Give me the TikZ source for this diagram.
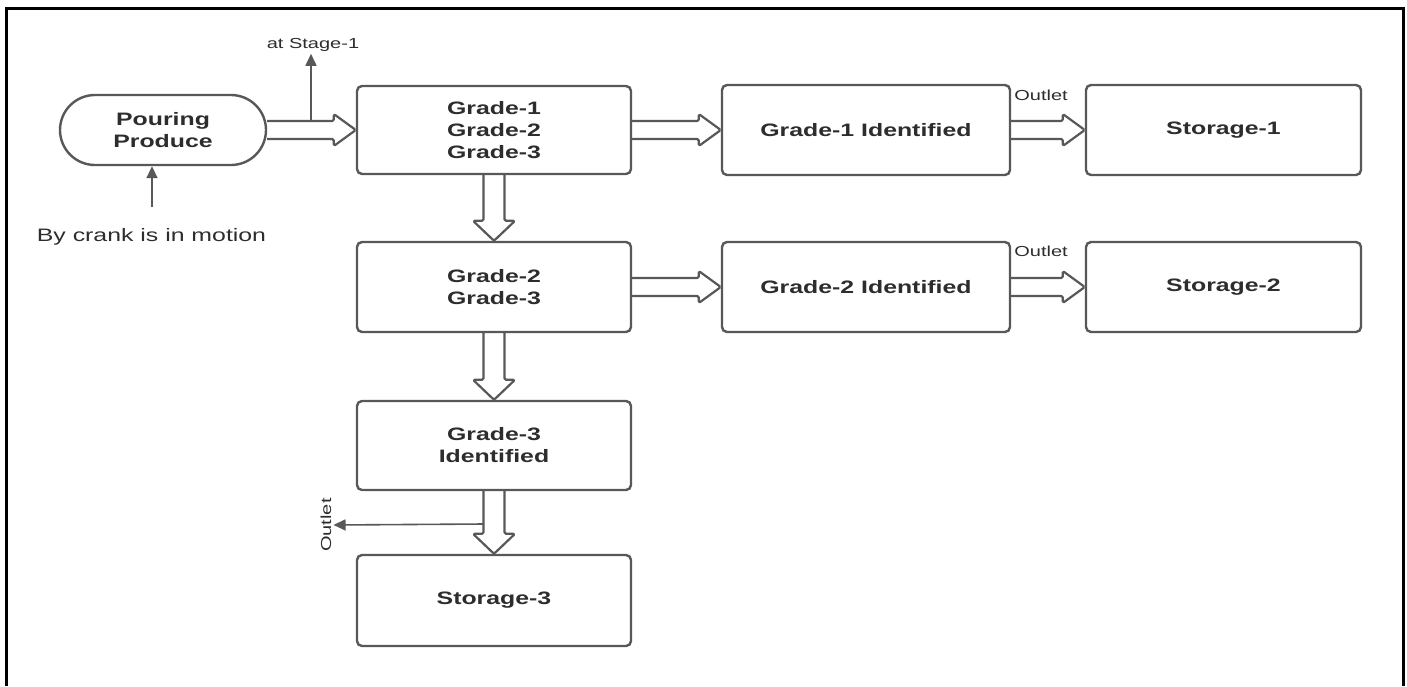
\documentclass[tikz,border=0pt]{standalone}
\usepackage{fontspec}
\setmainfont{Liberation Sans}[FakeStretch=1.38]
\usetikzlibrary{arrows.meta,calc}
\definecolor{boxgray}{RGB}{88,88,88}
\definecolor{txt}{RGB}{45,45,45}
\pgfdeclarelayer{bg}
\pgfsetlayers{bg,main}
\tikzset{
  box/.style={draw=boxgray, line width=2.4pt, rounded corners=5pt, fill=white,
    minimum width=274pt, minimum height=89pt, text=txt, align=center,
    font=\bfseries\fontsize{18}{22}\selectfont},
  stadium/.style={box, rounded corners=35pt, minimum width=206pt, minimum height=70pt},
  hollow/.style={draw=boxgray, line width=2.2pt, fill=white, rounded corners=1.5pt, line join=round},
  thinarrow/.style={draw=boxgray, line width=1.6pt, -{Triangle[length=12pt,width=11pt]}},
  smalllab/.style={text=txt, font=\fontsize{14.5}{16}\selectfont, inner sep=2pt},
  biglab/.style={text=txt, font=\fontsize{18}{20}\selectfont, inner sep=2pt},
}
\newcommand\hollowH[2]{%
  \draw[hollow] ([yshift=9pt]#1.east) -- ([xshift=-22pt,yshift=9pt]#2.west)
   -- ([xshift=-22pt,yshift=16pt]#2.west) -- (#2.west)
   -- ([xshift=-22pt,yshift=-16pt]#2.west) -- ([xshift=-22pt,yshift=-9pt]#2.west)
   -- ([yshift=-9pt]#1.east);}
\newcommand\hollowV[2]{%
  \draw[hollow] ([xshift=-10.5pt]#1.south) -- ([xshift=-10.5pt,yshift=20pt]#2.north)
   -- ([xshift=-21pt,yshift=20pt]#2.north) -- (#2.north)
   -- ([xshift=21pt,yshift=20pt]#2.north) -- ([xshift=10.5pt,yshift=20pt]#2.north)
   -- ([xshift=10.5pt]#1.south);}
\begin{document}
\begin{tikzpicture}[x=1pt,y=-1pt]
\useasboundingbox (0,0) rectangle (1407,686);
% frame
\draw[black, line width=3pt] (6,686) -- (6,8) -- (1403,8) -- (1403,686);

% nodes
\node[stadium] (pour) at (163,130) {Pouring\\Produce};
\node[box, minimum height=88pt] (b1) at (494,130) {Grade-1\\Grade-2\\Grade-3};
\node[box, minimum width=288pt, minimum height=90pt] (g1) at (866,130) {Grade-1 Identified};
\node[box, minimum width=275pt, minimum height=90pt] (s1) at (1223.5,130) {Storage-1};
\node[box, minimum height=90pt] (b2) at (494,287) {Grade-2\\Grade-3};
\node[box, minimum width=288pt, minimum height=90pt] (g2) at (866,287) {Grade-2 Identified};
\node[box, minimum width=275pt, minimum height=90pt] (s2) at (1223.5,287) {Storage-2};
\node[box, minimum height=89pt] (g3) at (494,445.5) {Grade-3\\Identified};
\node[box, minimum height=91pt] (s3) at (494,600.5) {Storage-3};

% labels
\node[smalllab] (stage) at (313,45) {at Stage-1};
\node[biglab] (crank) at (151.5,237) {By crank is in motion};
\node[smalllab] (out1) at (1041,95) {Outlet};
\node[smalllab] (out2) at (1041,251) {Outlet};
\node[smalllab, rotate=90] (out3) at (326,525) {Outlet};

\coordinate (st) at (311,121);
\coordinate (cr) at (152,207);
\coordinate (o3) at (483.5,524);

% hollow arrows
\begin{pgfonlayer}{bg}
\hollowH{pour}{b1}
\hollowH{b1}{g1}
\hollowH{g1}{s1}
\hollowH{b2}{g2}
\hollowH{g2}{s2}
\hollowV{b1}{b2}
\hollowV{b2}{g3}
\hollowV{g3}{s3}
\end{pgfonlayer}

% thin arrows
\draw[thinarrow] (st) -- (stage.south -| st);
\draw[thinarrow] (cr) -- (cr |- pour.south);
\draw[thinarrow] (o3) -- (out3.south);
\end{tikzpicture}
\end{document}
